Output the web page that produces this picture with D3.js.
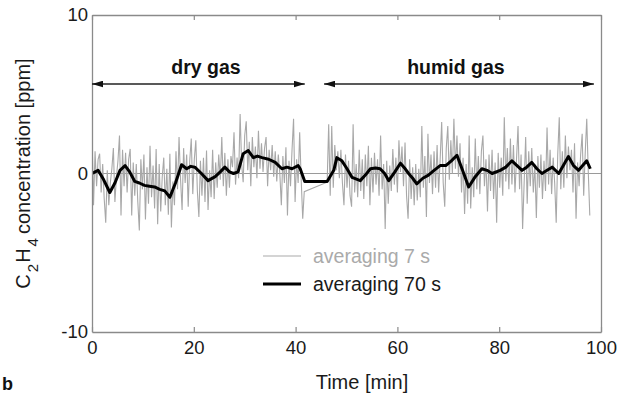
<!DOCTYPE html>
<html>
<head>
<meta charset="utf-8">
<script src="https://cdn.jsdelivr.net/npm/d3@7"></script>
<style>
  html, body { margin: 0; padding: 0; background: #fff; }
  svg { display: block; font-family: "Liberation Sans", Arial, Helvetica, sans-serif; }
</style>
</head>
<body>
<svg id="chart" width="632" height="397"></svg>
<script>
// C2H4 concentration record, 7 s averaging (grey) and 70 s averaging (black)

// 7 s samples, dry gas phase: starts at 0 min, one value every 0.3 min
const dryStart = 0;
const graySpacing = 0.3;
const dryGray = [
  2.5, -2.0, 1.4, -0.8, 0.9, 1.25, -1.2, 0.6, -1.6, -3.1,
  0.2, -2.0, -0.6, 0.3, 1.6, -1.8, -0.2, 0.8, 2.4, -2.65,
  1.5, -0.8, 1.3, -1.2, 0.9, 1.55, -2.65, 0.7, -1.4, 0.6,
  -1.8, -3.6, 0.9, -1.0, 1.2, -2.9, 0.4, -1.9, 1.75, -1.5,
  0.5, -2.2, 1.55, -3.2, 0.6, -2.4, -0.2, 1.0, -2.0, 0.3,
  -2.6, 1.25, -3.4, -0.5, -2.0, 1.4, -1.0, 2.3, -0.4, -2.3,
  1.6, -0.6, 1.2, -2.1, 0.8, 2.2, -1.3, 0.9, 2.1, -1.1,
  -2.75, 0.8, -1.4, 1.0, -1.8, 1.45, -2.3, 0.2, -1.5, 1.5,
  -1.6, 0.7, -0.9, 1.2, -0.4, 2.3, -0.8, 1.3, -1.4, 0.9,
  -0.9, 1.1, 0.4, 2.6, -0.7, 1.0, -0.3, 3.75, 0.6, -0.55,
  2.4, 3.3, 0.2, 2.0, -0.8, 2.3, 0.4, 1.7, -0.3, 2.7,
  0.3, 1.9, 0.1, 1.6, 2.3, -0.8, 1.5, 0.2, 1.8, -0.2,
  1.4, -0.5, 1.2, 0.0, -2.0, 1.1, -0.6, 1.65, -2.65, 0.8,
  -0.8, 1.5, 3.45, -1.8, 0.9, -0.6, 2.6, -0.4, -2.85, -1.15
];

// 7 s samples, humid gas phase: starts at 46.2 min
const humidStart = 46.2;
const humidGray = [
  -0.55, 3.1, -1.4, 3.0, -0.9, 1.8, 0.2, 1.4, -0.3, 1.5,
  -0.6, -2.0, 1.2, -0.9, 0.8, -1.4, -2.1, 3.1, -1.2, 0.6,
  -1.5, 1.5, -1.1, 0.9, -1.6, 1.2, -0.8, 1.75, -2.0, 1.0,
  -1.2, 1.3, -0.7, 0.9, -1.4, 2.4, -1.0, 0.6, -3.5, 0.8,
  -1.9, 0.5, -1.1, 1.55, -0.7, 1.0, -1.2, 2.1, 0.1, 1.7,
  -0.8, 1.95, -1.4, -2.85, 0.9, -1.6, 0.4, -2.0, 0.6, -1.7,
  0.3, -1.5, 3.0, -0.9, 1.1, -2.75, 2.5, -0.6, 1.2, -1.3,
  1.4, -0.9, 1.8, -1.2, 0.9, 3.25, -0.6, -2.1, 1.6, 3.0,
  -0.4, 2.1, 0.0, 3.45, 0.3, 2.4, -0.2, 1.9, -1.2, 1.0,
  -2.55, 0.6, -1.9, 2.4, -2.2, 0.4, -1.5, 2.2, -1.0, 1.1,
  -1.3, 1.4, 2.4, -0.8, 0.9, -2.4, 1.2, -1.1, 1.5, -1.6,
  0.7, -3.1, 1.3, -0.9, 1.0, -1.4, 3.55, -0.5, 1.6, -1.0,
  2.2, -0.7, 1.8, -1.2, 0.9, 3.0, -1.0, 1.2, -3.5, -0.6,
  2.3, -1.9, 1.4, -0.8, 1.6, -1.2, 0.6, -2.8, 1.1, -0.9,
  1.2, -1.6, 0.8, -1.1, 2.9, -0.7, 1.5, -1.3, 1.0, -0.6,
  -3.1, 1.2, 3.55, -1.0, 1.4, -0.9, 2.4, -0.3, 1.7, 0.2,
  1.5, -1.2, 1.9, -2.85, 0.7, -0.8, 1.2, 2.5, -1.4, 1.3,
  3.45, 0.1, -2.65
];

// 70 s moving average: time [min] and concentration [ppm]
const avgTime = [
  0, 1.2, 2.3, 3.5, 4.5, 5.5, 6.5, 7.4, 8.4, 9.3,
  10.3, 11.3, 12.3, 13.3, 14.3, 15.3, 16.4, 17.6, 18.6, 19.4,
  20.2, 21.5, 22.8, 24.2, 25.2, 26.1, 27.0, 27.8, 28.7, 29.7,
  30.7, 31.7, 32.5, 33.4, 34.7, 36.0, 37.3, 38.3, 39.3, 40.5,
  40.9, 41.8, 46.2, 47.5, 48.1, 49.1, 50.1, 51.1, 52.7, 53.7,
  54.7, 55.7, 56.6, 57.5, 58.3, 59.5, 60.6, 61.4, 62.2, 63.0,
  63.8, 65.0, 66.1, 67.2, 68.4, 69.5, 70.6, 71.7, 72.8, 74.0,
  75.3, 76.6, 77.6, 78.6, 80.2, 81.3, 82.5, 83.5, 84.5, 85.4,
  86.4, 87.4, 88.4, 89.4, 90.4, 91.7, 92.6, 93.6, 94.6, 95.6,
  96.4, 97.2, 97.9
];
const avgValue = [
  0.0, 0.2, -0.4, -1.2, -0.6, 0.2, 0.5, 0.1, -0.5, -0.6,
  -0.75, -0.8, -0.85, -1.0, -1.1, -1.5, -0.6, 0.55, 0.3, 0.45,
  0.4, 0.0, -0.45, -0.2, 0.1, 0.4, 0.1, 0.0, 0.1, 1.25,
  1.45, 1.0, 1.1, 1.0, 0.9, 0.7, 0.3, 0.4, 0.3, 0.5,
  0.3, -0.5, -0.5, 0.2, 1.0, 0.8, 0.3, -0.25, -0.45, -0.1,
  0.3, 0.35, 0.3, 0.0, -0.45, 0.1, 0.65, 0.35, 0.0, -0.3,
  -0.65, -0.3, -0.1, 0.2, 0.5, 0.5, 0.8, 1.15, 0.2, -0.85,
  -0.2, 0.3, 0.2, 0.0, 0.2, 0.4, 0.8, 0.5, 0.2, 0.4,
  0.7, 0.3, 0.0, 0.2, 0.4, 0.0, 0.5, 1.07, 0.5, 0.2,
  0.5, 0.8, 0.3
];

const xTicks = [0, 20, 40, 60, 80, 100];
const yTicks = [-10, 0, 10];
const phases = [
  { label: "dry gas", from: 0, to: 41.8, labelAt: 22.4 },
  { label: "humid gas", from: 45.6, to: 98.6, labelAt: 71.5 }
];
const legendItems = [
  { label: "averaging 7 s", color: "#aaaaaa", width: 1.2 },
  { label: "averaging 70 s", color: "#000000", width: 3 }
];

const svg = d3.select("#chart");
const margin = { left: 92, right: 31, top: 15, bottom: 65 };
const W = 632, H = 397;
const x = d3.scaleLinear().domain([0, 100]).range([margin.left, W - margin.right]);
const y = d3.scaleLinear().domain([-10, 10]).range([H - margin.bottom, margin.top]);

const axisColor = "#8a8a8a";
const textColor = "#1a1a1a";
const fontStack = "'Liberation Sans', Arial, sans-serif";

// grey 7 s trace
const grayPoints = dryGray.map((v, i) => [dryStart + i * graySpacing, v])
  .concat(humidGray.map((v, i) => [humidStart + i * graySpacing, v]));

svg.append("clipPath").attr("id", "plotClip")
  .append("rect")
  .attr("x", x(0)).attr("y", y(10))
  .attr("width", x(100) - x(0)).attr("height", y(-10) - y(10));

const plot = svg.append("g").attr("clip-path", "url(#plotClip)");

// zero reference line
plot.append("line")
  .attr("x1", x(0)).attr("x2", x(100))
  .attr("y1", y(0)).attr("y2", y(0))
  .attr("stroke", "#9a9a9a").attr("stroke-width", 1);

const line = d3.line().x(d => x(d[0])).y(d => y(d[1]));

plot.append("path")
  .datum(grayPoints)
  .attr("d", line)
  .attr("fill", "none")
  .attr("stroke", "#a8a8a8")
  .attr("stroke-width", 1.1)
  .attr("stroke-linejoin", "miter");

plot.append("path")
  .datum(avgTime.map((t, i) => [t, avgValue[i]]))
  .attr("d", line)
  .attr("fill", "none")
  .attr("stroke", "#000")
  .attr("stroke-width", 3)
  .attr("stroke-linejoin", "round");

// axes box with inward ticks
function styleAxis(g) {
  g.select(".domain").attr("stroke", axisColor).attr("stroke-width", 1.3);
  g.selectAll(".tick line").attr("stroke", axisColor).attr("stroke-width", 1.2);
  g.selectAll("text").attr("fill", textColor).attr("font-size", 18.5)
    .attr("font-family", fontStack);
}
const plain = d => String(d);

svg.append("g")
  .attr("transform", `translate(0,${y(-10)})`)
  .call(d3.axisBottom(x).tickValues(xTicks).tickSizeInner(-5).tickSizeOuter(0).tickPadding(9).tickFormat(plain))
  .call(styleAxis);

svg.append("g")
  .attr("transform", `translate(0,${y(10)})`)
  .call(d3.axisTop(x).tickValues(xTicks).tickSizeInner(-5).tickSizeOuter(0).tickFormat(""))
  .call(styleAxis);

svg.append("g")
  .attr("transform", `translate(${x(0)},0)`)
  .call(d3.axisLeft(y).tickValues(yTicks).tickSizeInner(0).tickSizeOuter(0).tickPadding(4).tickFormat(plain))
  .call(styleAxis)
  .call(g => g.selectAll("text").attr("text-anchor", "end"));

svg.append("g")
  .attr("transform", `translate(${x(100)},0)`)
  .call(d3.axisRight(y).tickValues(yTicks).tickSizeInner(0).tickSizeOuter(0).tickFormat(""))
  .call(styleAxis);

// axis titles
svg.append("text")
  .attr("x", 362)
  .attr("y", 389)
  .attr("text-anchor", "middle")
  .attr("font-size", 20)
  .attr("fill", textColor)
  .text("Time [min]");

const yTitle = svg.append("text")
  .attr("transform", `translate(30,${(y(10) + y(-10)) / 2}) rotate(-90)`)
  .attr("text-anchor", "middle")
  .attr("font-size", 20)
  .attr("fill", textColor);
yTitle.append("tspan").text("C");
yTitle.append("tspan").attr("dy", 8).attr("dx", 2).attr("font-size", 15).text("2");
yTitle.append("tspan").attr("dy", -8).attr("dx", 1).text("H");
yTitle.append("tspan").attr("dy", 8).attr("dx", 2).attr("font-size", 15).text("4");
yTitle.append("tspan").attr("dy", -8).attr("dx", 4).text("concentration [ppm]");

// phase annotations with double-headed arrows
const defs = svg.append("defs");
defs.append("marker")
  .attr("id", "arrowhead")
  .attr("viewBox", "0 0 10 6")
  .attr("refX", 10)
  .attr("refY", 3)
  .attr("markerWidth", 11)
  .attr("markerHeight", 7)
  .attr("markerUnits", "userSpaceOnUse")
  .attr("orient", "auto-start-reverse")
  .append("path")
  .attr("d", "M0,0 L10,3 L0,6 Z")
  .attr("fill", "#111");

const arrowY = 84;
phases.forEach(p => {
  svg.append("line")
    .attr("x1", x(p.from)).attr("x2", x(p.to))
    .attr("y1", arrowY).attr("y2", arrowY)
    .attr("stroke", "#222").attr("stroke-width", 1.3)
    .attr("marker-start", "url(#arrowhead)")
    .attr("marker-end", "url(#arrowhead)");
  svg.append("text")
    .attr("x", x(p.labelAt))
    .attr("y", 74)
    .attr("text-anchor", "middle")
    .attr("font-size", 19.5)
    .attr("font-weight", "bold")
    .attr("fill", "#111")
    .text(p.label);
});

// legend
const legend = svg.append("g").attr("transform", "translate(263,256)");
legendItems.forEach((item, i) => {
  const row = legend.append("g").attr("transform", `translate(0,${i * 28})`);
  row.append("line")
    .attr("x1", 0).attr("x2", 38)
    .attr("y1", 0).attr("y2", 0)
    .attr("stroke", item.color)
    .attr("stroke-width", item.width);
  row.append("text")
    .attr("x", 50).attr("y", 7)
    .attr("font-size", 19.5)
    .attr("fill", item.color === "#000000" ? textColor : item.color)
    .text(item.label);
});

// panel letter
svg.append("text")
  .attr("x", 2).attr("y", 390)
  .attr("font-size", 18)
  .attr("font-weight", "bold")
  .attr("fill", "#111")
  .text("b");
</script>
</body>
</html>
